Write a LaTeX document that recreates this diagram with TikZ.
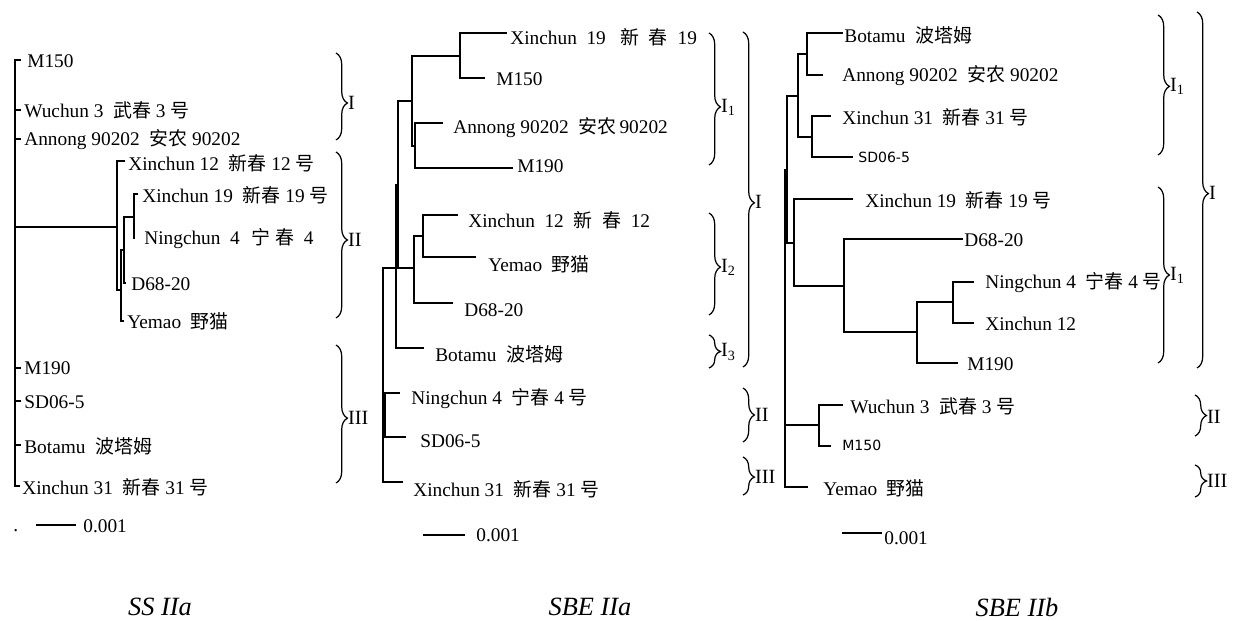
\documentclass[tikz,border=0pt]{standalone}
\usepackage{fontspec}
\setmainfont{Liberation Serif}
\newfontfamily\cjk{Noto Sans CJK SC}[Scale=0.98]
\newfontfamily\sansf{DejaVu Sans}
\usetikzlibrary{decorations.pathreplacing}
\newcommand{\zh}[1]{{\cjk #1}}
\tikzset{
  br/.style={line width=0.9pt},
  leaf/.style={anchor=west, inner sep=0pt, font=\fontsize{11}{12}\selectfont},
  sleaf/.style={anchor=west, inner sep=0pt, font=\fontsize{8}{10}\sansf},
  grp/.style={decorate, decoration={brace, amplitude=6.5pt, aspect=#1}, line width=0.7pt},
  grp/.default=0.5,
  grplbl/.style={anchor=west, inner sep=0.4pt, font=\fontsize{11.5}{12}\selectfont},
  ttl/.style={font=\fontsize{15}{18}\selectfont\itshape}
}

\begin{document}
\begin{tikzpicture}[x=0.02cm, y=-0.02cm]
  \useasboundingbox (0,0) rectangle (1234,621);

  % --- SS IIa ---
  \coordinate (s_root) at (15,227);
  \coordinate (s_n1) at (117,227);
  \coordinate (s_n2) at (121,290);
  \coordinate (s_n3) at (124,250);
  \coordinate (s_n4) at (134,217);

  \coordinate (s_m150_e) at (21,60);
  \coordinate (s_wuchun_e) at (21,110);
  \coordinate (s_annong_e) at (21,139);
  \coordinate (s_x12_e) at (125,161);
  \coordinate (s_x19_e) at (138,194);
  \coordinate (s_ning_e) at (134,239);
  \coordinate (s_d68_e) at (126,283);
  \coordinate (s_yemao_e) at (124,321);
  \coordinate (s_m190_e) at (21,368);
  \coordinate (s_sd_e) at (21,401);
  \coordinate (s_bot_e) at (21,445);
  \coordinate (s_x31_e) at (20,486);

  \node[leaf] (s_m150) at (27,61) {M150};
  \node[leaf] (s_wuchun) at (24,110) {Wuchun 3\hspace{0.5em}\zh{武春} 3 \zh{号}};
  \node[leaf] (s_annong) at (24,140) {Annong 90202\hspace{0.5em}\zh{安农} 90202};
  \node[leaf] (s_x12) at (128,163) {Xinchun 12\hspace{0.5em}\zh{新春} 12 \zh{号}};
  \node[leaf] (s_x19) at (142,195) {Xinchun 19\hspace{0.5em}\zh{新春} 19 \zh{号}};
  \node[leaf] (s_ning) at (144,239) {Ningchun\ \ 4\hspace{0.6em}\zh{宁} \zh{春}\ \ 4};
  \node[leaf] (s_d68) at (131,284) {D68-20};
  \node[leaf] (s_yemao) at (127,321) {Yemao\hspace{0.5em}\zh{野猫}};
  \node[leaf] (s_m190) at (24,368) {M190};
  \node[leaf] (s_sd) at (24,402) {SD06-5};
  \node[leaf] (s_bot) at (24,446) {Botamu\hspace{0.5em}\zh{波塔姆}};
  \node[leaf] (s_x31) at (22,487) {Xinchun 31\hspace{0.5em}\zh{新春} 31 \zh{号}};

  \draw[br] (s_root) |- (s_m150_e) (s_root) |- (s_wuchun_e) (s_root) |- (s_annong_e) (s_root) |- (s_n1);
  \draw[br] (s_root) |- (s_m190_e) (s_root) |- (s_sd_e) (s_root) |- (s_bot_e) (s_root) |- (s_x31_e);
  \draw[br] (s_n1) |- (s_x12_e) (s_n1) |- (s_n2);
  \draw[br] (s_n2) |- (s_n3) (s_n2) |- (s_yemao_e);
  \draw[br] (s_n3) |- (s_n4) (s_n3) |- (s_d68_e);
  \draw[br] (s_n4) |- (s_x19_e) (s_n4) |- (s_ning_e);

  \node[leaf, anchor=base west] (s_dot) at (13,531) {.};
  \coordinate (s_sb1) at (36,525);
  \coordinate (s_sb2) at (76,525);
  \draw[br] (s_sb1) -- (s_sb2);
  \node[leaf] (s_sbl) at (83,526) {0.001};
  \node[ttl] (s_ttl) at (160,607) {SS IIa};

  \draw[grp=0.575] (336,53) -- (336,140);
  \node[grplbl] (s_g1) at (347,103) {I};
  \draw[grp=0.53] (336,152) -- (336,318);
  \node[grplbl] (s_g2) at (347,240) {II};
  \draw[grp=0.53] (336,345) -- (336,483);
  \node[grplbl] (s_g3) at (347,418) {III};

  % --- SBE IIa ---
  \coordinate (a_root) at (383,375);
  \coordinate (a_n1) at (460,56);
  \coordinate (a_n2) at (415,146);
  \coordinate (a_n3) at (412,101);
  \coordinate (a_n4) at (423,236);
  \coordinate (a_n5) at (414,268);
  \coordinate (a_n6) at (398,185);
  \coordinate (a_n7) at (396,268);
  \coordinate (a_n8) at (385,415);

  \coordinate (a_x19_e) at (507,33);
  \coordinate (a_m150_e) at (485,78);
  \coordinate (a_annong_e) at (443,123);
  \coordinate (a_m190_e) at (513,168);
  \coordinate (a_x12_e) at (458,215);
  \coordinate (a_yemao_e) at (476,257);
  \coordinate (a_d68_e) at (453,303);
  \coordinate (a_bot_e) at (424,348);
  \coordinate (a_ning_e) at (400,393);
  \coordinate (a_sd_e) at (406,437);
  \coordinate (a_x31_e) at (403,482);

  \node[leaf] (a_x19) at (510,37) {Xinchun\ \ 19\ \ \ \zh{新}\ \ \zh{春}\ \ 19};
  \node[leaf] (a_m150) at (496,79) {M150};
  \node[leaf] (a_annong) at (453,128) {Annong 90202\hspace{0.5em}\zh{安农}\,90202};
  \node[leaf] (a_m190) at (517,166) {M190};
  \node[leaf] (a_x12) at (468,220) {Xinchun\ \ 12\ \ \zh{新}\ \ \zh{春}\ \ 12};
  \node[leaf] (a_yemao) at (488,264) {Yemao\hspace{0.5em}\zh{野猫}};
  \node[leaf] (a_d68) at (464,310) {D68-20};
  \node[leaf] (a_bot) at (435,354) {Botamu\hspace{0.5em}\zh{波塔姆}};
  \node[leaf] (a_ning) at (411,399) {Ningchun 4\hspace{0.5em}\zh{宁春} 4 \zh{号}};
  \node[leaf] (a_sd) at (420,441) {SD06-5};
  \node[leaf] (a_x31) at (413,489) {Xinchun 31\hspace{0.5em}\zh{新春} 31 \zh{号}};

  \draw[br] (a_n1) |- (a_x19_e) (a_n1) |- (a_m150_e);
  \draw[br] (a_n2) |- (a_annong_e) (a_n2) |- (a_m190_e);
  \draw[br] (a_n3) |- (a_n1) (a_n3) |- (a_n2);
  \draw[br] (a_n4) |- (a_x12_e) (a_n4) |- (a_yemao_e);
  \draw[br] (a_n5) |- (a_n4) (a_n5) |- (a_d68_e);
  \draw[br] (a_n6) |- (a_n3) (a_n6) |- (a_n5);
  \draw[br] (a_n7) |- (a_n6) (a_n7) |- (a_bot_e);
  \draw[br] (a_n8) |- (a_ning_e) (a_n8) |- (a_sd_e);
  \draw[br] (a_root) |- (a_n7) (a_root) |- (a_n8) (a_root) |- (a_x31_e);

  \coordinate (a_sb1) at (423,535);
  \coordinate (a_sb2) at (465,535);
  \draw[br] (a_sb1) -- (a_sb2);
  \node[leaf] (a_sbl) at (476,535) {0.001};
  \node[ttl] (a_ttl) at (590,607) {SBE IIa};

  \draw[grp=0.56] (709,33) -- (709,165);
  \node[grplbl] (a_g1) at (720,107) {I\textsubscript{1}};
  \draw[grp=0.53] (709,213) -- (709,315);
  \node[grplbl] (a_g2) at (720,267) {I\textsubscript{2}};
  \draw[grp] (709,335) -- (709,368);
  \node[grplbl] (a_g3) at (720,352) {I\textsubscript{3}};
  \draw[grp=0.51] (743,32) -- (743,367);
  \node[grplbl] (a_g4) at (754,202) {I};
  \draw[grp] (743,388) -- (743,442);
  \node[grplbl] (a_g5) at (754,415) {II};
  \draw[grp=0.53] (743,457) -- (743,495);
  \node[grplbl] (a_g6) at (754,477) {III};

  % --- SBE IIb ---
  \coordinate (b_root) at (785,330);
  \coordinate (b_n1) at (807,54);
  \coordinate (b_n2) at (812,137);
  \coordinate (b_n3) at (798,96);
  \coordinate (b_n4) at (787,170);
  \coordinate (b_n5) at (953,302);
  \coordinate (b_n6) at (917,332);
  \coordinate (b_n7) at (844,286);
  \coordinate (b_n8) at (794,243);
  \coordinate (b_n9) at (819,425);

  \coordinate (b_bot_e) at (843,33);
  \coordinate (b_annong_e) at (823,75);
  \coordinate (b_x31_e) at (831,116);
  \coordinate (b_sd_e) at (853,157);
  \coordinate (b_x19_e) at (853,199);
  \coordinate (b_d68_e) at (963,239);
  \coordinate (b_ning_e) at (974,282);
  \coordinate (b_x12_e) at (974,323);
  \coordinate (b_m190_e) at (958,363);
  \coordinate (b_wuchun_e) at (843,405);
  \coordinate (b_m150_e) at (831,446);
  \coordinate (b_yemao_e) at (808,487);

  \node[leaf] (b_bot) at (844,35) {Botamu\hspace{0.5em}\zh{波塔姆}};
  \node[leaf] (b_annong) at (842,76) {Annong 90202\hspace{0.5em}\zh{安农} 90202};
  \node[leaf] (b_x31) at (842,117) {Xinchun 31\hspace{0.5em}\zh{新春} 31 \zh{号}};
  \node[sleaf] (b_sd) at (858,157) {SD06-5};
  \node[leaf] (b_x19) at (865,200) {Xinchun 19\hspace{0.5em}\zh{新春} 19 \zh{号}};
  \node[leaf] (b_d68) at (964,240) {D68-20};
  \node[leaf] (b_ning) at (985,283) {Ningchun 4\hspace{0.5em}\zh{宁春} 4 \zh{号}};
  \node[leaf] (b_x12) at (985,324) {Xinchun 12};
  \node[leaf] (b_m190) at (967,364) {M190};
  \node[leaf] (b_wuchun) at (850,406) {Wuchun 3\hspace{0.5em}\zh{武春} 3 \zh{号}};
  \node[sleaf] (b_m150) at (842,445) {M150};
  \node[leaf] (b_yemao) at (823,488) {Yemao\hspace{0.5em}\zh{野猫}};

  \draw[br] (b_n1) |- (b_bot_e) (b_n1) |- (b_annong_e);
  \draw[br] (b_n2) |- (b_x31_e) (b_n2) |- (b_sd_e);
  \draw[br] (b_n3) |- (b_n1) (b_n3) |- (b_n2);
  \draw[br] (b_n5) |- (b_ning_e) (b_n5) |- (b_x12_e);
  \draw[br] (b_n6) |- (b_n5) (b_n6) |- (b_m190_e);
  \draw[br] (b_n7) |- (b_d68_e) (b_n7) |- (b_n6);
  \draw[br] (b_n8) |- (b_x19_e) (b_n8) |- (b_n7);
  \draw[br] (b_n4) |- (b_n3) (b_n4) |- (b_n8);
  \draw[br] (b_n9) |- (b_wuchun_e) (b_n9) |- (b_m150_e);
  \draw[br] (b_root) |- (b_n4) (b_root) |- (b_n9) (b_root) |- (b_yemao_e);

  \coordinate (b_sb1) at (842,533);
  \coordinate (b_sb2) at (882,533);
  \draw[br] (b_sb1) -- (b_sb2);
  \node[leaf] (b_sbl) at (884,538) {0.001};
  \node[ttl] (b_ttl) at (1017,607) {SBE IIb};

  \draw[grp=0.51] (1158,15) -- (1158,155);
  \node[grplbl] (b_g1) at (1169,86) {I\textsubscript{1}};
  \draw[grp] (1158,187) -- (1158,363);
  \node[grplbl] (b_g2) at (1169,275) {I\textsubscript{1}};
  \draw[grp=0.51] (1197,12) -- (1197,368);
  \node[grplbl] (b_g3) at (1208,193) {I};
  \draw[grp] (1195,395) -- (1195,436);
  \node[grplbl] (b_g4) at (1206,417) {II};
  \draw[grp] (1195,465) -- (1195,497);
  \node[grplbl] (b_g5) at (1206,481) {III};
\end{tikzpicture}
\end{document}
